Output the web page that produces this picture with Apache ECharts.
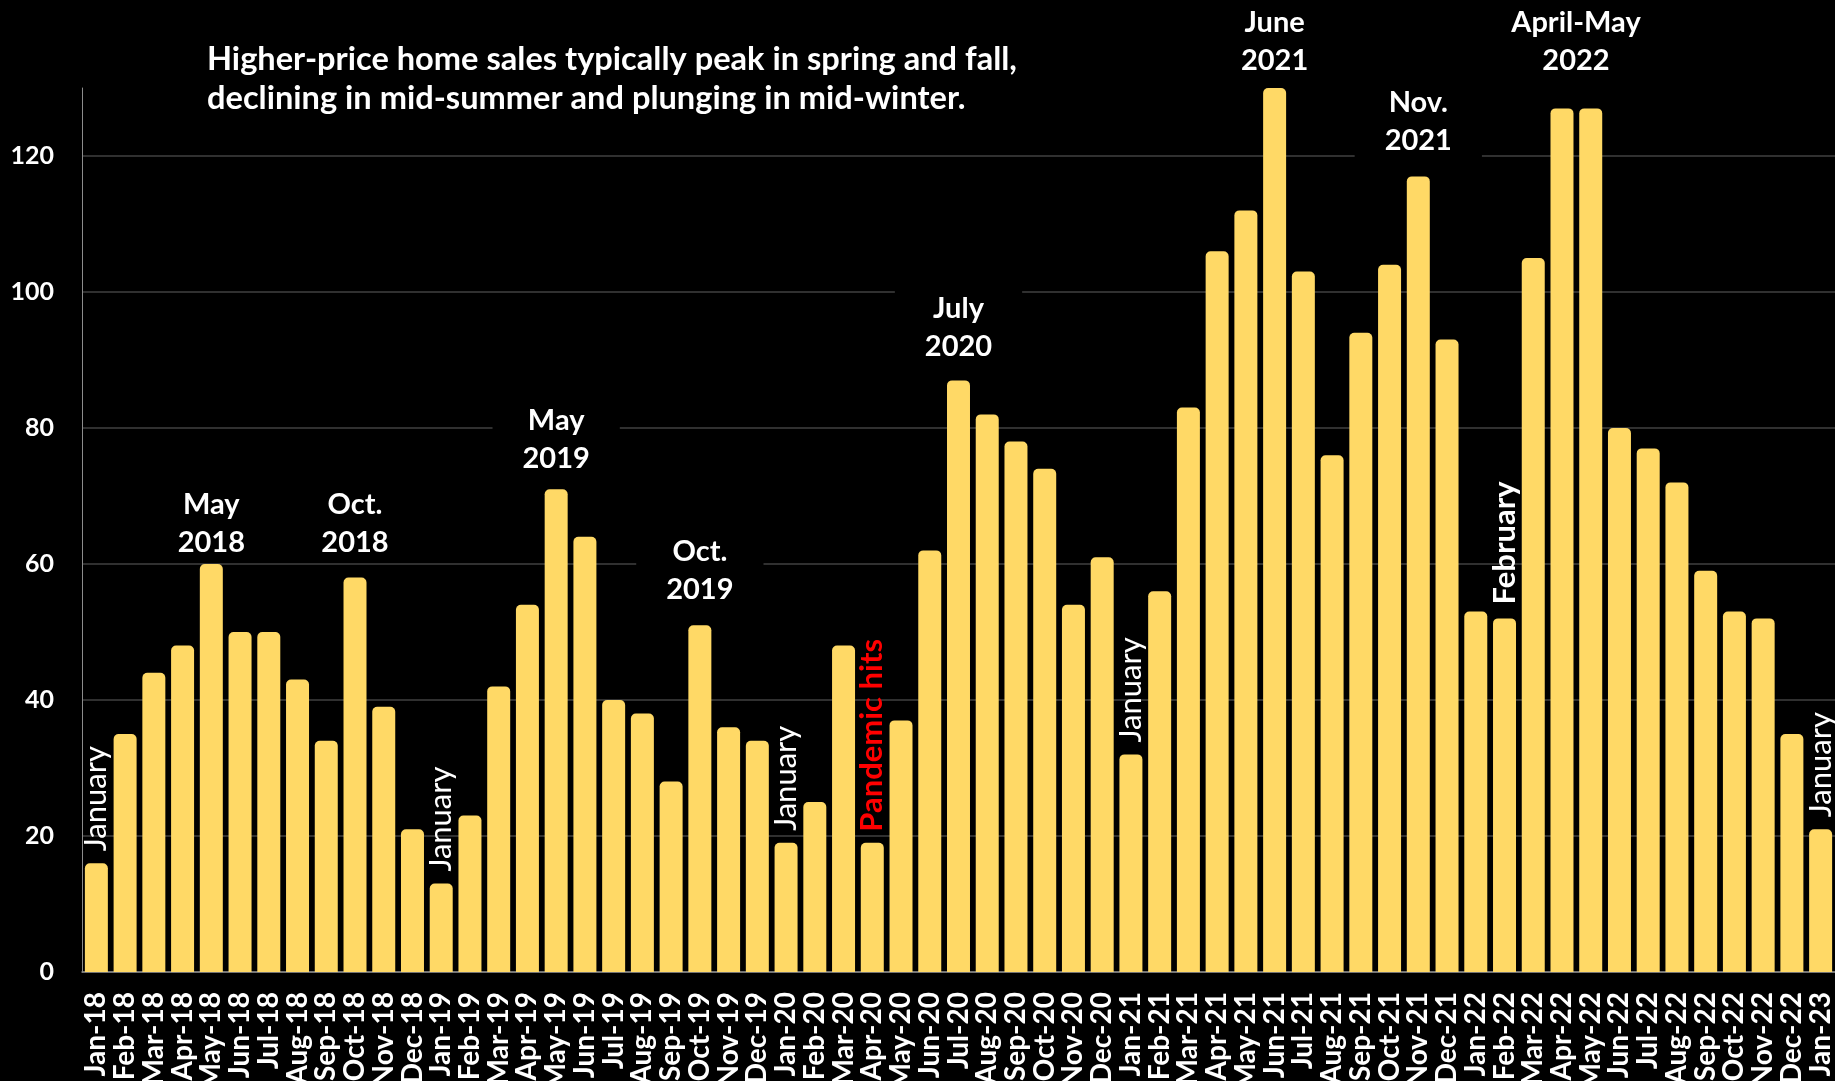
<!DOCTYPE html>
<html>
<head>
<meta charset="utf-8">
<title>Higher-price home sales</title>
<script src="https://cdn.jsdelivr.net/npm/echarts@6/dist/echarts.min.js"></script>
<style>
    html, body { margin: 0; padding: 0; background: #000; }
    #sales_con { width: 1835px; height: 1081px; }
</style>
</head>
<body>
<div id="sales_con"></div>
<script>
// months shown on the x axis
var months = [
    'Jan-18', 'Feb-18', 'Mar-18', 'Apr-18', 'May-18', 'Jun-18', 'Jul-18', 'Aug-18', 'Sep-18', 'Oct-18', 'Nov-18', 'Dec-18',
    'Jan-19', 'Feb-19', 'Mar-19', 'Apr-19', 'May-19', 'Jun-19', 'Jul-19', 'Aug-19', 'Sep-19', 'Oct-19', 'Nov-19', 'Dec-19',
    'Jan-20', 'Feb-20', 'Mar-20', 'Apr-20', 'May-20', 'Jun-20', 'Jul-20', 'Aug-20', 'Sep-20', 'Oct-20', 'Nov-20', 'Dec-20',
    'Jan-21', 'Feb-21', 'Mar-21', 'Apr-21', 'May-21', 'Jun-21', 'Jul-21', 'Aug-21', 'Sep-21', 'Oct-21', 'Nov-21', 'Dec-21',
    'Jan-22', 'Feb-22', 'Mar-22', 'Apr-22', 'May-22', 'Jun-22', 'Jul-22', 'Aug-22', 'Sep-22', 'Oct-22', 'Nov-22', 'Dec-22',
    'Jan-23'
];

// monthly sales counts
var sales = [
    16, 35, 44, 48, 60, 50, 50, 43, 34, 58, 39, 21,
    13, 23, 42, 54, 71, 64, 40, 38, 28, 51, 36, 34,
    19, 25, 48, 19, 37, 62, 87, 82, 78, 74, 54, 61,
    32, 56, 83, 106, 112, 130, 103, 76, 94, 104, 117, 93,
    53, 52, 105, 127, 127, 80, 77, 72, 59, 53, 52, 35,
    21
];

var yTicks = [0, 20, 40, 60, 80, 100, 120];

// vertical notes sitting on top of a bar
var barNotes = [
    { month: 'Jan-18', text: 'January' },
    { month: 'Jan-19', text: 'January' },
    { month: 'Jan-20', text: 'January' },
    { month: 'Apr-20', text: 'Pandemic hits' },
    { month: 'Jan-21', text: 'January' },
    { month: 'Feb-22', text: 'February' },
    { month: 'Jan-23', text: 'January' }
];

// peak callouts: month and the y value where the text box ends
var peakNotes = [
    { month: 'May-18', at: 60.4, text: 'May\n2018' },
    { month: 'Oct-18', at: 60.4, text: 'Oct.\n2018' },
    { month: 'May-19', at: 72.7, text: 'May\n2019' },
    { month: 'Oct-19', at: 53.5, text: 'Oct.\n2019' },
    { month: 'Jul-20', at: 89.2, text: 'July\n2020' },
    { month: 'Jun-21', at: 131.3, text: 'June\n2021' },
    { month: 'Nov-21', at: 119.5, text: 'Nov.\n2021' },
    { month: 'Apr-22', at: 131.3, text: 'April-May\n2022' }
];

var FONT = 'Lato, "Open Sans", sans-serif';
var Y_MAX = 130;
var PX_PER_UNIT = 6.8;

var noteStyle = {
    'January': { color: '#fff', fontWeight: 'normal', distance: 12 },
    'February': { color: '#fff', fontWeight: 'bold', distance: 14 },
    'Pandemic hits': { color: '#ff0000', fontWeight: 'bold', distance: 11 }
};

var barData = sales.map(function (v, i) {
    var note = barNotes.filter(function (n) { return n.month === months[i]; })[0];
    if (!note) return v;
    var st = noteStyle[note.text];
    return {
        value: v,
        label: {
            show: true,
            position: 'top',
            distance: st.distance,
            rotate: 90,
            align: 'left',
            verticalAlign: 'middle',
            formatter: note.text,
            color: st.color,
            fontWeight: st.fontWeight,
            fontFamily: FONT,
            fontSize: 31
        }
    };
});

// markPoints outside the y range are dropped, so clamp and shift the label instead
var peakData = peakNotes.map(function (n) {
    var over = Math.max(0, n.at - Y_MAX) * PX_PER_UNIT;
    var dx = n.month === 'Apr-22' ? 14 : 0;
    return {
        name: n.text,
        coord: [n.month, Math.min(n.at, Y_MAX)],
        label: { offset: [dx, -over] }
    };
});

var salesChart = echarts.init(document.getElementById('sales_con'));

window.addEventListener('resize', function () {
    salesChart.resize();
});

salesChart.setOption({
    backgroundColor: '#000',
    animation: false,
    title: {
        text: 'Higher-price home sales typically peak in spring and fall,\ndeclining in mid-summer and plunging in mid-winter.',
        left: 207,
        top: 40,
        padding: 0,
        textStyle: {
            color: '#fff',
            fontFamily: FONT,
            fontWeight: 'bold',
            fontSize: 32.6,
            lineHeight: 39
        }
    },
    grid: {
        left: 82,
        right: 0,
        top: 88,
        bottom: 109,
        outerBoundsMode: 'none'
    },
    xAxis: {
        type: 'category',
        data: months,
        axisTick: { show: false },
        axisLine: { lineStyle: { color: '#8c8c8c', width: 1.5 } },
        axisLabel: {
            interval: 0,
            rotate: 90,
            margin: 20,
            color: '#fff',
            fontFamily: FONT,
            fontWeight: 'bold',
            fontSize: 28
        }
    },
    yAxis: {
        type: 'value',
        min: 0,
        max: Y_MAX,
        interval: 20,
        axisLine: { show: true, lineStyle: { color: '#8c8c8c', width: 1 } },
        axisTick: { show: false },
        axisLabel: {
            showMaxLabel: false,
            margin: 28,
            color: '#fff',
            fontFamily: FONT,
            fontWeight: 'bold',
            fontSize: 25,
            formatter: function (v) { return yTicks.indexOf(v) >= 0 ? v : ''; }
        },
        splitLine: {
            showMaxLine: false,
            lineStyle: { color: '#404040', width: 1.5 }
        }
    },
    series: [
        {
            name: 'Sales',
            type: 'bar',
            data: barData,
            barCategoryGap: '20%',
            itemStyle: {
                color: '#FFD966',
                borderRadius: [5, 5, 0, 0]
            },
            markPoint: {
                symbol: 'rect',
                symbolSize: 0,
                silent: true,
                label: {
                    show: true,
                    position: 'top',
                    distance: 0,
                    formatter: '{b}',
                    align: 'center',
                    color: '#fff',
                    fontFamily: FONT,
                    fontWeight: 'bold',
                    fontSize: 29,
                    lineHeight: 38,
                    backgroundColor: '#000',
                    padding: [4, 30, 0, 30]
                },
                data: peakData
            }
        }
    ]
});
</script>
</body>
</html>
